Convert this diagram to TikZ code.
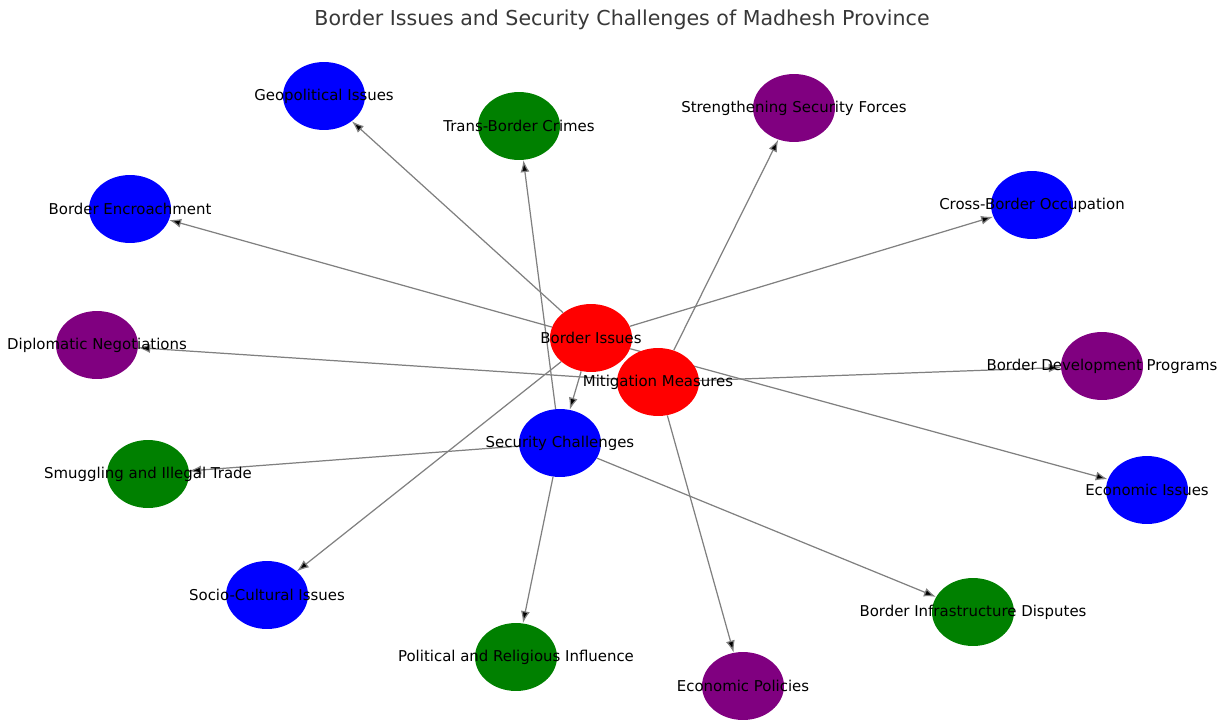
\documentclass[tikz,border=0pt]{standalone}
\usepackage{fontspec}
\setmainfont{DejaVu Sans}
\usepackage{xcolor}
\usepackage{tikz}
\usetikzlibrary{shapes.geometric,arrows.meta,backgrounds}

\definecolor{nxblue}{RGB}{0,0,255}
\definecolor{nxred}{RGB}{255,0,0}
\definecolor{nxgreen}{RGB}{0,128,0}
\definecolor{nxpurple}{RGB}{128,0,128}
\definecolor{edgegray}{RGB}{128,128,128}

\begin{document}
\begin{tikzpicture}[x=0.02cm,y=-0.02cm,
    main node/.style={ellipse,draw=none,minimum width=1.64cm,minimum height=1.36cm,inner sep=0pt,
        label={[font=\fontsize{8.5}{9}\selectfont,text=black]center:#1}},
    issue/.style={main node=#1,fill=nxblue},
    core/.style={main node=#1,fill=nxred},
    threat/.style={main node=#1,fill=nxgreen},
    measure/.style={main node=#1,fill=nxpurple},
    link/.style={draw=edgegray,line width=0.7pt,-{Latex[length=2.4mm,width=1.8mm]}}]
        \useasboundingbox (0,0) rectangle (1228,720);
        \node[text=black!78,font=\fontsize{11.7}{13}\selectfont] (title) at (622,20) {Border Issues and Security Challenges of Madhesh Province};

        % central nodes
        \node[core=Border Issues] (bi) at (591,338) {};
        \node[core=Mitigation Measures] (mm) at (658,382) {};
        \node[issue=Security Challenges] (sc) at (560,443) {};

        % outer nodes
        \node[issue=Geopolitical Issues] (geo) at (324,96) {};
        \node[threat=Trans-Border Crimes] (tbc) at (519,126) {};
        \node[measure=Strengthening Security Forces] (ssf) at (794,108) {};
        \node[issue=Border Encroachment] (enc) at (130,209) {};
        \node[issue=Cross-Border Occupation] (occ) at (1032,205) {};
        \node[measure=Diplomatic Negotiations] (dip) at (97,345) {};
        \node[measure=Border Development Programs] (bdp) at (1102,366) {};
        \node[threat=Smuggling and Illegal Trade] (smg) at (148,474) {};
        \node[issue=Economic Issues] (eco) at (1147,490) {};
        \node[issue=Socio-Cultural Issues] (soc) at (267,595) {};
        \node[threat=Border Infrastructure Disputes] (inf) at (973,612) {};
        \node[threat=Political and Religious Influence] (pol) at (516,657) {};
        \node[measure=Economic Policies] (pcy) at (743,686) {};

        \begin{pgfonlayer}{background}
        \path[link]
            (bi) edge (geo)
            (bi) edge (enc)
            (bi) edge (occ)
            (bi) edge (sc)
            (bi) edge (soc)
            (bi) edge (eco)
            (mm) edge (ssf)
            (mm) edge (dip)
            (mm) edge (bdp)
            (mm) edge (pcy)
            (sc) edge (tbc)
            (sc) edge (smg)
            (sc) edge (pol)
            (sc) edge (inf);
        \end{pgfonlayer}
    \end{tikzpicture}
\end{document}
